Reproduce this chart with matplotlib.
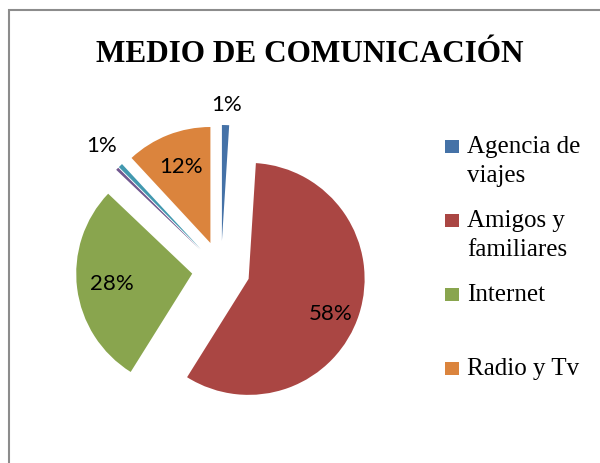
import numpy as np
import matplotlib
matplotlib.use('Agg')
import matplotlib.pyplot as plt
from matplotlib.patches import Rectangle

# datos
medios = ['Agencia de viajes', 'Amigos y familiares', 'Internet', 'Otros', 'Otros 2', 'Radio y Tv']
porcentajes = [1.0, 57.9, 28.2, 0.4, 0.6, 11.9]
leyenda = ['Agencia de\nviajes', 'Amigos y\nfamiliares', 'Internet', 'Radio y Tv']
leyenda_idx = [0, 1, 2, 5]
colores = ['#4572A7', '#AA4643', '#89A54E', '#71588F', '#4198AF', '#DB843D']

fig = plt.figure(figsize=(6.0, 4.63), dpi=100)

# borde del grafico (estilo excel)
fig.add_artist(Rectangle((8.5 / 600, -0.05), 1.1, 1.05 - 10.5 / 463, fill=False,
                         edgecolor='#8c8c8c', lw=1.5, transform=fig.transFigure))

L = 1.6
R_px = 116
cx, cy = 221, 463 - 270
w = 2 * L * R_px
ax = fig.add_axes([(cx - w / 2) / 600, (cy - w / 2) / 463, w / 600, w / 463])

wedges, texts, autotexts = ax.pie(
    porcentajes, colors=colores, startangle=90, counterclock=False,
    explode=[0.25] * len(porcentajes), autopct=lambda p: '%.0f%%' % p,
    pctdistance=0.7, textprops=dict(family='Lato', fontsize=16, color='black'),
    wedgeprops=dict(linewidth=0))
ax.set_xlim(-L, L)
ax.set_ylim(-L, L)
ax.set_aspect('equal')
ax.axis('off')
for wd in wedges:
    wd.set_clip_on(False)

# ajustar etiquetas (distancia desde el vertice de cada rebanada)
dist = {0: 1.17, 1: 0.77, 4: 1.24}
giro = {1: -5}
for i, (wd, t) in enumerate(zip(wedges, autotexts)):
    if i == 3:
        t.set_visible(False)
        continue
    if i in dist:
        ang = np.deg2rad((wd.theta1 + wd.theta2) / 2 + giro.get(i, 0))
        d = dist[i] * wd.r
        t.set_position((wd.center[0] + d * np.cos(ang), wd.center[1] + d * np.sin(ang)))
    t.set_clip_on(False)

fig.text(310 / 600, 1 - 61.5 / 463, 'MEDIO DE COMUNICACIÓN', ha='center', va='baseline',
         family='Liberation Serif', fontweight='bold', fontsize=22.5)

# leyenda
y0 = 146.5
paso = 74
interlinea = 29
for k, (lab, idx) in enumerate(zip(leyenda, leyenda_idx)):
    yc = y0 + k * paso
    fig.add_artist(Rectangle((445 / 600, 1 - (yc + 6.5) / 463), 13.5 / 600, 13 / 463,
                             facecolor=colores[idx], edgecolor='none', transform=fig.transFigure))
    for j, linea in enumerate(lab.split('\n')):
        fig.text(467 / 600, 1 - (yc + 6.2 + j * interlinea) / 463, linea, ha='left',
                 va='baseline', family='Liberation Serif', fontsize=18)

fig.savefig('out.png', dpi=100)
